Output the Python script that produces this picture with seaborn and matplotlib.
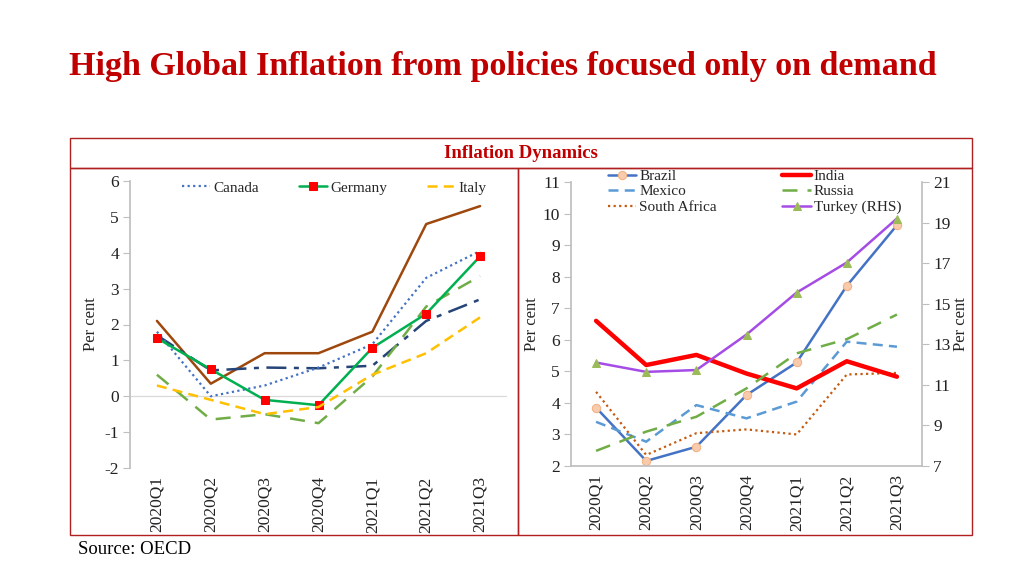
import matplotlib
matplotlib.use("Agg")
import matplotlib.pyplot as plt
import seaborn as sns
from matplotlib.patches import Rectangle

# quarters on the x axis
quarters = ['2020Q1', '2020Q2', '2020Q3', '2020Q4', '2021Q1', '2021Q2', '2021Q3']

# left panel (advanced economies)
canada = [1.8, 0.0, 0.3, 0.8, 1.45, 3.3, 4.05]
germany = [1.62, 0.75, -0.1, -0.25, 1.35, 2.3, 3.9]
italy = [0.3, -0.1, -0.5, -0.3, 0.6, 1.2, 2.2]
brown_series = [2.1, 0.35, 1.2, 1.2, 1.8, 4.8, 5.3]
navy_series = [1.7, 0.72, 0.8, 0.78, 0.85, 2.1, 2.7]
green_series = [0.6, -0.65, -0.5, -0.75, 0.55, 2.5, 3.35]

# right panel (emerging economies)
brazil = [3.85, 2.16, 2.61, 4.25, 5.28, 7.71, 9.63]
india = [6.6, 5.2, 5.52, 4.93, 4.46, 5.32, 4.83]
mexico = [3.4, 2.77, 3.93, 3.51, 4.04, 5.94, 5.78]
russia = [2.48, 3.09, 3.56, 4.46, 5.57, 6.02, 6.8]
south_africa = [4.35, 2.35, 3.04, 3.16, 3.0, 4.9, 4.95]
turkey = [12.1, 11.64, 11.73, 13.48, 15.55, 17.03, 19.2]

sns.set_theme(style="white")
plt.rcParams['font.family'] = ['Liberation Serif', 'DejaVu Serif']
plt.rcParams['axes.unicode_minus'] = False

DARKRED = '#C00000'
GRAY = '#BFBFBF'
TICKFS = 12.5

fig = plt.figure(figsize=(10.24, 5.76), dpi=100)
fig.patch.set_facecolor('white')

fig.text(0.491, 1 - 66 / 576, 'High Global Inflation from policies focused only on demand',
         ha='center', va='center', fontsize=24.5, fontweight='bold', color=DARKRED)

# header box and panel frames
W, H = 1024, 576
def px_rect(x0, y0, x1, y1):
    return Rectangle((x0 / W, 1 - y1 / H), (x1 - x0) / W, (y1 - y0) / H,
                     transform=fig.transFigure, fill=False, edgecolor='#B02020', lw=1.0)
fig.patches.append(px_rect(70, 138, 972, 168))
fig.patches.append(px_rect(70, 168, 518, 535))
fig.patches.append(px_rect(518, 168, 972, 535))
fig.text(521 / W, 1 - 153 / H, 'Inflation Dynamics', ha='center', va='center',
         fontsize=13.5, fontweight='bold', color=DARKRED)
fig.text(78 / W, 1 - 549 / H, 'Source: OECD', ha='left', va='center', fontsize=13.5, color='black')

def style_axis(ax):
    for s in ['top', 'right', 'bottom']:
        ax.spines[s].set_visible(False)
    ax.spines['left'].set_color(GRAY)
    ax.tick_params(axis='y', left=True, length=5, width=0.8, color=GRAY,
                   labelsize=TICKFS, labelcolor='#222222', pad=3)
    ax.tick_params(axis='x', bottom=False, labelsize=TICKFS, labelrotation=90,
                   labelcolor='#222222', pad=0)
    ax.set_xlim(-0.5, 6.5)
    ax.set_xlabel('')
    ax.grid(False)

# ---- left panel
ax1 = fig.add_axes([130 / W, 1 - 468 / H, 377 / W, 287 / H])
sns.lineplot(x=quarters, y=brown_series, ax=ax1, color='#9E480E', lw=1.8, sort=False)
sns.lineplot(x=quarters, y=navy_series, ax=ax1, color='#264478', lw=1.8,
             linestyle=(0, (8, 3, 2, 3)), sort=False)
sns.lineplot(x=quarters, y=green_series, ax=ax1, color='#70AD47', lw=1.8,
             linestyle=(0, (6, 4)), sort=False)
sns.lineplot(x=quarters, y=canada, ax=ax1, color='#4472C4', lw=1.6,
             linestyle=(0, (1, 1.5)), sort=False, label='Canada')
sns.lineplot(x=quarters, y=germany, ax=ax1, color='#00B050', lw=1.8, marker='s',
             markersize=5.5, markerfacecolor='#FF0000', markeredgecolor='#FF0000',
             sort=False, label='Germany')
sns.lineplot(x=quarters, y=italy, ax=ax1, color='#FFC000', lw=1.8,
             linestyle=(0, (4, 2.5)), sort=False, label='Italy')
ax1.axhline(0, color='#D9D9D9', lw=0.9, zorder=0)
ax1.set_ylim(-2, 6)
ax1.set_yticks(range(-2, 7))
style_axis(ax1)
ax1.set_ylabel('Per cent', fontsize=12, labelpad=4)
ax1.legend(loc='upper left', bbox_to_anchor=(0.138, 1.0), ncol=3, frameon=False,
           fontsize=11, handlelength=1.85, handletextpad=0.2, columnspacing=2.6,
           borderaxespad=0, borderpad=0)

# ---- right panel
ax2 = fig.add_axes([571 / W, 1 - 466 / H, 351 / W, 284 / H])
ax3 = ax2.twinx()
sns.lineplot(x=quarters, y=brazil, ax=ax2, color='#4472C4', lw=1.8, marker='o',
             markersize=6, markerfacecolor='#F8CBAD', markeredgecolor='#F4B183',
             sort=False, label='Brazil')
sns.lineplot(x=quarters, y=mexico, ax=ax2, color='#5B9BD5', lw=1.8,
             linestyle=(0, (4, 2.5)), sort=False, label='Mexico')
sns.lineplot(x=quarters, y=south_africa, ax=ax2, color='#C55A11', lw=1.6,
             linestyle=(0, (1, 1.5)), sort=False, label='South Africa')
sns.lineplot(x=quarters, y=india, ax=ax2, color='#FF0000', lw=3.2, sort=False, label='India')
sns.lineplot(x=quarters, y=russia, ax=ax2, color='#70AD47', lw=1.8,
             linestyle=(0, (6, 4)), sort=False, label='Russia')
sns.lineplot(x=quarters, y=turkey, ax=ax3, color='#A64CE6', lw=1.8, marker='^',
             markersize=6, markerfacecolor='#9BBB59', markeredgecolor='#9BBB59',
             sort=False, label='Turkey (RHS)')
ax2.set_ylim(2, 11)
ax2.set_yticks(range(2, 12))
ax3.set_ylim(7, 21)
ax3.set_yticks(range(7, 22, 2))
style_axis(ax2)
ax2.spines['bottom'].set_visible(True)
ax2.spines['bottom'].set_color(GRAY)
for s in ['top', 'left', 'bottom']:
    ax3.spines[s].set_visible(False)
ax3.spines['right'].set_color(GRAY)
ax3.tick_params(axis='y', right=True, length=5, width=0.8, color=GRAY,
                labelsize=TICKFS, labelcolor='#222222', pad=3)
ax3.grid(False)
ax2.set_ylabel('Per cent', fontsize=12, labelpad=2)
ax3.set_ylabel('Per cent', fontsize=12, labelpad=2)

h2, l2 = ax2.get_legend_handles_labels()
h3, l3 = ax3.get_legend_handles_labels()
if ax3.get_legend():
    ax3.get_legend().remove()
ax2.legend(h2 + h3, l2 + l3, loc='upper left', bbox_to_anchor=(0.105, 1.045), ncol=2,
           frameon=False, fontsize=11, handlelength=1.85, handletextpad=0.2,
           columnspacing=4.3, labelspacing=0.12, borderaxespad=0, borderpad=0)

fig.savefig('out.png', dpi=100, facecolor='white')
